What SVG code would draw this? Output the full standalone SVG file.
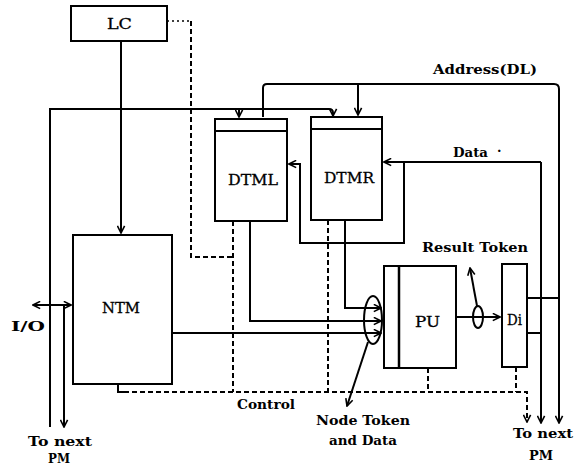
<svg xmlns="http://www.w3.org/2000/svg" width="585" height="466" viewBox="0 0 585 466">
<style>
.box{fill:#fff;stroke:#000;stroke-width:2}
.ln{fill:none;stroke:#000;stroke-width:2}
.dl{fill:none;stroke:#000;stroke-width:2;stroke-dasharray:5 3}
.dot{fill:none;stroke:#000;stroke-width:1.6;stroke-dasharray:2 3}
.lb{font-family:"DejaVu Serif","Liberation Serif",serif;font-size:15px;fill:#000;stroke:#000;stroke-width:0.3}
.sm{font-family:"DejaVu Serif","Liberation Serif",serif;font-size:13px;font-weight:bold;fill:#000}
</style>
<defs>
<marker id="ar" viewBox="0 0 10 10" refX="9" refY="5" markerWidth="9" markerHeight="9" markerUnits="userSpaceOnUse" orient="auto-start-reverse">
<path d="M1,1 L9,5 L1,9" fill="none" stroke="#000" stroke-width="1.8" stroke-dasharray="none"/>
</marker>
</defs>
<rect width="585" height="466" fill="#fff"/>
<g id="connectors">
<path class="ln" d="M121 41 V233" marker-end="url(#ar)"/>
<path class="ln" d="M50 427 V109 H329 Q333 109 333 113 V116" marker-end="url(#ar)"/>
<path class="ln" d="M239 109 V117" marker-end="url(#ar)"/>
<path class="ln" d="M263 117 V88 Q263 84 267 84 H554 Q559 84 559 89 V423" marker-end="url(#ar)"/>
<path class="ln" d="M358 84 V115" marker-end="url(#ar)"/>
<path class="ln" d="M541 162 V423" marker-end="url(#ar)"/>
<path class="ln" d="M541 162 H384" marker-end="url(#ar)"/>
<path class="ln" d="M527 333 H541 M527 298 H559"/>
<path class="ln" d="M404 162 V243 H300 V164 H289" marker-end="url(#ar)"/>
<path class="ln" d="M250 221 V321 H381" marker-end="url(#ar)"/>
<path class="ln" d="M345 220 V308 H381" marker-end="url(#ar)"/>
<path class="ln" d="M172 333 H381" marker-end="url(#ar)"/>
<ellipse class="ln" cx="373" cy="320" rx="9" ry="24"/>
<path class="ln" d="M368 342 L347 406" marker-end="url(#ar)"/>
<path class="ln" d="M456 317 H500" marker-end="url(#ar)"/>
<ellipse class="ln" cx="478" cy="317" rx="5" ry="11"/>
<path class="ln" d="M477 306 L470 268" marker-end="url(#ar)"/>
<path class="ln" d="M33 305 H71" marker-start="url(#ar)" marker-end="url(#ar)"/>
<path class="ln" d="M64 305 V427" marker-end="url(#ar)"/>
<path class="ln" d="M118 384 V392 H124"/>
<path class="dot" d="M167 21 H191"/>
<path class="dl" d="M191 21 V257 H233"/>
<path class="dl" d="M233 221 V392"/>
<path class="dl" d="M328 220 V392"/>
<path class="dl" d="M124 392 H527 V422" marker-end="url(#ar)"/>
<path class="dl" d="M428 368 V392"/>
<path class="dl" d="M516 367 V392"/>
</g>
<g id="LC">
<rect class="box" x="71" y="6" width="96" height="35"/>
<text class="lb" x="107" y="29" textLength="25" lengthAdjust="spacingAndGlyphs">LC</text>
</g>
<g id="NTM">
<rect class="box" x="73" y="235" width="99" height="149"/>
<text class="lb" x="102" y="313" textLength="38" lengthAdjust="spacingAndGlyphs">NTM</text>
</g>
<g id="DTML">
<rect class="box" x="215" y="119" width="72" height="102"/>
<line class="ln" x1="215" y1="131" x2="287" y2="131"/>
<text class="lb" x="228" y="185" textLength="50" lengthAdjust="spacingAndGlyphs">DTML</text>
</g>
<g id="DTMR">
<rect class="box" x="311" y="117" width="71" height="103"/>
<line class="ln" x1="311" y1="129" x2="382" y2="129"/>
<text class="lb" x="324" y="183" textLength="50" lengthAdjust="spacingAndGlyphs">DTMR</text>
</g>
<g id="PU">
<rect class="box" x="384" y="266" width="72" height="102"/>
<line x1="399" y1="266" x2="399" y2="368" stroke="#000" stroke-width="2.5"/>
<text class="lb" x="415" y="327" textLength="25" lengthAdjust="spacingAndGlyphs">PU</text>
</g>
<g id="Di">
<rect class="box" x="502" y="264" width="25" height="103"/>
<text class="lb" x="507" y="325" textLength="15" lengthAdjust="spacingAndGlyphs">Di</text>
</g>
<g id="labels">
<text class="sm" x="433" y="74" textLength="104" lengthAdjust="spacingAndGlyphs">Address(DL)</text>
<text class="sm" x="453" y="157" textLength="35" lengthAdjust="spacingAndGlyphs">Data</text>
<text class="sm" x="497" y="155">·</text>
<text class="sm" x="422" y="252" textLength="106" lengthAdjust="spacingAndGlyphs">Result Token</text>
<text class="sm" x="237" y="409" textLength="58" lengthAdjust="spacingAndGlyphs">Control</text>
<text class="sm" x="316" y="425" textLength="94" lengthAdjust="spacingAndGlyphs">Node Token</text>
<text class="sm" x="329" y="445" textLength="68" lengthAdjust="spacingAndGlyphs">and Data</text>
<text class="sm" x="11" y="331" textLength="34" lengthAdjust="spacingAndGlyphs">I/O</text>
<text class="sm" x="28" y="446" textLength="64" lengthAdjust="spacingAndGlyphs">To next</text>
<text class="sm" x="48" y="463" textLength="22" lengthAdjust="spacingAndGlyphs">PM</text>
<text class="sm" x="513" y="438" textLength="60" lengthAdjust="spacingAndGlyphs">To next</text>
<text class="sm" x="529" y="460" textLength="24" lengthAdjust="spacingAndGlyphs">PM</text>
</g>
</svg>
